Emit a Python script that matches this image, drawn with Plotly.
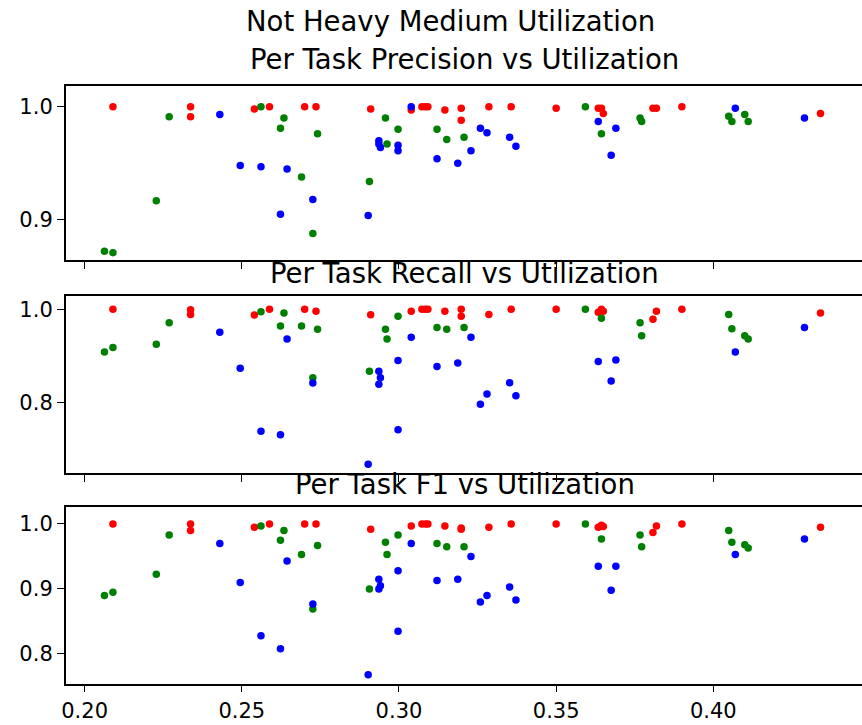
import plotly.graph_objects as go

# Per-task metrics vs utilization, three task groups (red / green / blue)
red_util = [0.2090, 0.2337, 0.2337, 0.2540, 0.2588, 0.2700, 0.2736, 0.2910, 0.3039, 0.3073,
            0.3084, 0.3092, 0.3146, 0.3198, 0.3198, 0.3286, 0.3357, 0.3500, 0.3634, 0.3644,
            0.3650, 0.3808, 0.3819, 0.3900, 0.4341]
red_prec = [1.0, 1.0, 0.991, 0.998, 1.0, 1.0, 1.0, 0.998, 0.997, 1.0,
            1.0, 1.0, 0.997, 0.9985, 0.988, 1.0, 1.0, 0.9985, 0.9985, 0.9985,
            0.994, 0.9985, 0.9985, 1.0, 0.994]
red_rec = [1.0, 0.999, 0.989, 0.988, 1.0, 1.0, 0.996, 0.9885, 0.996, 1.0,
           1.0, 1.0, 0.996, 0.985, 1.0, 0.989, 1.0, 1.0, 0.9935, 1.0,
           0.996, 0.9785, 0.9957, 1.0, 0.992]
red_f1 = [1.0, 1.0, 0.990, 0.995, 1.0, 1.0, 1.0, 0.992, 0.997, 1.0,
          1.0, 1.0, 0.997, 0.992, 0.994, 0.995, 1.0, 1.0, 0.995, 0.998,
          0.996, 0.987, 0.997, 1.0, 0.995]

green_util = [0.2063, 0.2090, 0.2228, 0.2269, 0.2561, 0.2623, 0.2634, 0.2690, 0.2726, 0.2741,
              0.2906, 0.2957, 0.2962, 0.2997, 0.3121, 0.3152, 0.3207, 0.3593, 0.3644, 0.3767,
              0.3772, 0.4049, 0.4059, 0.4100, 0.4111]
green_prec = [0.8724, 0.8711, 0.917, 0.991, 1.0, 0.981, 0.990, 0.938, 0.888, 0.976,
              0.934, 0.990, 0.967, 0.980, 0.980, 0.971, 0.973, 1.0, 0.976, 0.990,
              0.987, 0.9915, 0.987, 0.993, 0.987]
green_rec = [0.908, 0.918, 0.925, 0.971, 0.995, 0.964, 0.992, 0.964, 0.853, 0.957,
             0.867, 0.957, 0.936, 0.985, 0.961, 0.957, 0.961, 1.0, 0.981, 0.971,
             0.943, 0.989, 0.958, 0.943, 0.936]
green_f1 = [0.890, 0.895, 0.9226, 0.983, 0.997, 0.975, 0.990, 0.953, 0.869, 0.967,
            0.900, 0.972, 0.953, 0.983, 0.970, 0.965, 0.965, 1.0, 0.977, 0.983,
            0.965, 0.990, 0.972, 0.968, 0.963]

blue_util = [0.2430, 0.2495, 0.2561, 0.2623, 0.2644, 0.2726, 0.2902, 0.2936, 0.2936, 0.2941,
             0.2997, 0.2997, 0.3039, 0.3121, 0.3187, 0.3229, 0.3259, 0.3280, 0.3352, 0.3372,
             0.3634, 0.3675, 0.3690, 0.4070, 0.4290]
blue_prec = [0.993, 0.948, 0.947, 0.905, 0.945, 0.918, 0.904, 0.970, 0.967, 0.964,
             0.966, 0.961, 1.0, 0.954, 0.950, 0.961, 0.981, 0.977, 0.973, 0.965,
             0.987, 0.957, 0.981, 0.9985, 0.990]
blue_rec = [0.9505, 0.873, 0.738, 0.730, 0.936, 0.8415, 0.667, 0.867, 0.839, 0.853,
            0.890, 0.741, 0.940, 0.877, 0.8845, 0.940, 0.796, 0.818, 0.842, 0.814,
            0.888, 0.846, 0.891, 0.908, 0.961]
blue_f1 = [0.970, 0.910, 0.828, 0.808, 0.943, 0.877, 0.768, 0.915, 0.900, 0.905,
           0.928, 0.835, 0.970, 0.913, 0.915, 0.950, 0.880, 0.890, 0.903, 0.883,
           0.935, 0.898, 0.935, 0.953, 0.977]

x_ticks = [0.20, 0.25, 0.30, 0.35, 0.40]
x_tick_text = ["0.20", "0.25", "0.30", "0.35", "0.40"]

panels = [
    dict(title="Per Task Precision vs Utilization", series=(red_prec, green_prec, blue_prec),
         ticks=[0.9, 1.0], ytext=["0.9", "1.0"], yrange=[0.8644, 1.0185],
         domain=[0.6410, 0.8818], title_y=59),
    dict(title="Per Task Recall vs Utilization", series=(red_rec, green_rec, blue_rec),
         ticks=[0.8, 1.0], ytext=["0.8", "1.0"], yrange=[0.648, 1.0286],
         domain=[0.3476, 0.5917], title_y=273),
    dict(title="Per Task F1 vs Utilization", series=(red_f1, green_f1, blue_f1),
         ticks=[0.8, 0.9, 1.0], ytext=["0.8", "0.9", "1.0"], yrange=[0.7543, 1.0257],
         domain=[0.0570, 0.3003], title_y=484),
]

colors = ["#ff0000", "#008000", "#0000ff"]
utils = [red_util, green_util, blue_util]

W, H = 862, 725
FONT = "DejaVu Sans"
TICK_SIZE = 21
TITLE_SIZE = 27.5

fig = go.Figure()
layout = dict(
    width=W, height=H,
    margin=dict(l=0, r=0, t=0, b=0),
    paper_bgcolor="white", plot_bgcolor="white",
    showlegend=False,
    font=dict(family=FONT, color="black", size=TICK_SIZE),
    annotations=[],
)

for i, p in enumerate(panels):
    n = i + 1
    xa = "x" if n == 1 else f"x{n}"
    ya = "y" if n == 1 else f"y{n}"
    for util, vals, col in zip(utils, p["series"], colors):
        fig.add_trace(go.Scatter(
            x=util, y=vals, mode="markers", xaxis=xa, yaxis=ya,
            marker=dict(color=col, size=7.5, line=dict(width=0)),
        ))
    xkey = "xaxis" if n == 1 else f"xaxis{n}"
    ykey = "yaxis" if n == 1 else f"yaxis{n}"
    layout[xkey] = dict(
        domain=[62 / W, 1.0], range=[0.19398, 0.4473], anchor=ya,
        tickvals=x_ticks, ticktext=x_tick_text, showticklabels=(n == 3),
        ticks="outside", ticklen=7, tickwidth=1.3, tickcolor="black",
        showline=True, linecolor="black", linewidth=1.5, mirror=True,
        showgrid=False, zeroline=False, tickfont=dict(size=TICK_SIZE, family=FONT),
    )
    layout[ykey] = dict(
        domain=p["domain"], range=p["yrange"], anchor=xa,
        tickvals=p["ticks"], ticktext=p["ytext"],
        ticks="outside", ticklen=7, tickwidth=1.3, tickcolor="black",
        showline=True, linecolor="black", linewidth=1.5,
        showgrid=False, zeroline=False, tickfont=dict(size=TICK_SIZE, family=FONT),
    )
    layout["annotations"].append(dict(
        text=p["title"], xref="paper", yref="paper",
        x=463 / W, y=1 - p["title_y"] / H, xanchor="center", yanchor="middle",
        showarrow=False, font=dict(size=TITLE_SIZE, family=FONT, color="black"),
    ))

layout["annotations"].append(dict(
    text="Not Heavy Medium Utilization", xref="paper", yref="paper",
    x=449 / W, y=1 - 21 / H, xanchor="center", yanchor="middle",
    showarrow=False, font=dict(size=TITLE_SIZE, family=FONT, color="black"),
))

fig.update_layout(**layout)
fig.write_html("out.html")
